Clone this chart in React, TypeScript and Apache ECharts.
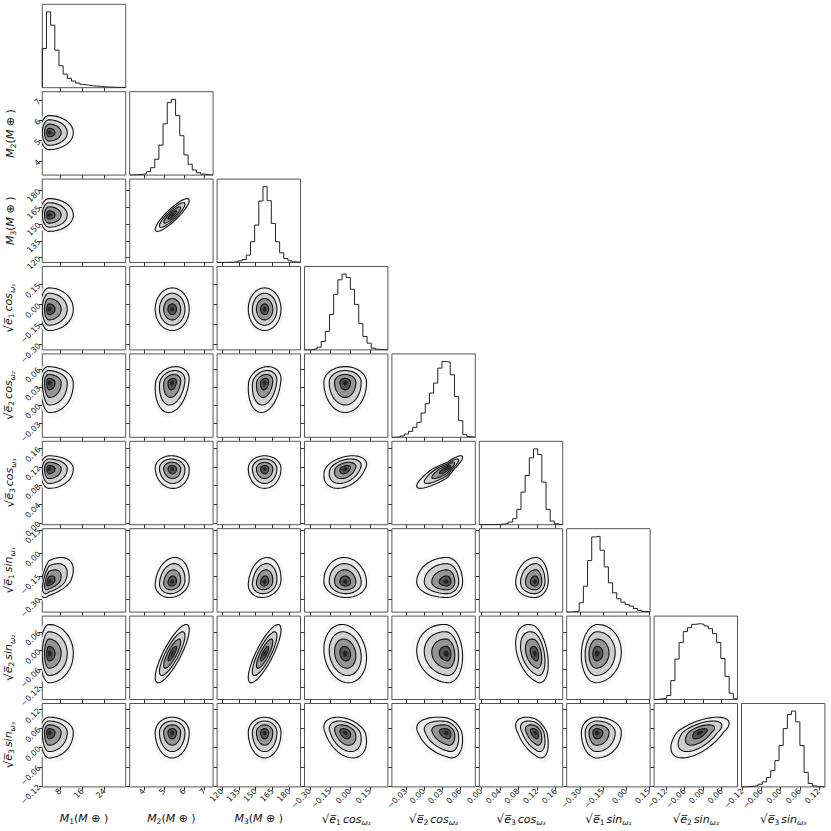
import React, { useEffect, useRef } from 'react';
import * as echarts from 'echarts';

// ---------- data ----------
// axis ranges of each parameter (same for x and y use)
const paramRanges: [number, number][] = [
  [1.5, 31.6],      // M1
  [3.3, 7.42],      // M2
  [115.6, 190],     // M3
  [-0.34, 0.285],   // sqrt(e1) cos w1
  [-0.053, 0.085],  // sqrt(e2) cos w2
  [-0.004, 0.175],  // sqrt(e3) cos w3
  [-0.385, 0.157],  // sqrt(e1) sin w1
  [-0.158, 0.111],  // sqrt(e2) sin w2
  [-0.123, 0.139],  // sqrt(e3) sin w3
];

const tickM1 = [8, 16, 24];
const tickM2 = [4, 5, 6, 7];
const tickM3 = [120, 135, 150, 165, 180];
const tickE1c = [-0.3, -0.15, 0, 0.15];
const tickE2c = [-0.03, 0, 0.03, 0.06];
const tickE3c = [0, 0.04, 0.08, 0.12, 0.16];
const tickE1s = [-0.3, -0.15, 0, 0.15];
const tickE2s = [-0.12, -0.06, 0, 0.06];
const tickE3s = [-0.12, -0.06, 0, 0.06, 0.12];
const tickDecimals = [0, 0, 0, 2, 2, 2, 2, 2, 2];

// 20-bin marginal histograms (relative counts)
const histM1 = [118, 228, 188, 113, 66, 41, 28, 20, 14, 10, 8, 6, 5, 4, 3, 2, 2, 1, 1, 0.5];
const histM2 = [0.5, 1, 2, 4, 10, 22, 47, 89, 152, 215, 225, 177, 117, 60, 32, 15, 7, 3, 1, 0.5];
const histM3 = [0, 0.3, 0.6, 1, 2, 5, 9, 22, 62, 112, 184, 227, 185, 117, 62, 29, 12, 5, 2, 1];
const histE1c = [0, 1, 3, 8, 25, 55, 105, 165, 208, 225, 215, 180, 135, 78, 40, 20, 5, 2, 0.5, 0];
const histE2c = [0, 1, 4, 10, 18, 30, 45, 73, 101, 133, 163, 208, 228, 226, 188, 123, 50, 8, 2, 0];
const histE3c = [0, 0, 0.3, 0.5, 1, 2, 4, 8, 18, 46, 98, 148, 201, 228, 211, 128, 46, 11, 3, 0.5];
const histE1s = [0, 1, 3, 28, 78, 155, 226, 228, 186, 136, 88, 58, 40, 30, 23, 18, 11, 5, 2, 0.5];
const histE2s = [0.5, 2, 4, 12, 57, 122, 172, 205, 217, 227, 229, 227, 222, 214, 199, 172, 124, 70, 19, 2];
const histE3s = [0, 1, 2, 4, 8, 15, 28, 48, 78, 123, 173, 215, 225, 193, 123, 43, 10, 3, 0.5, 0];

// centre and (lower / upper) spread of each parameter, for the 2-D contours
const centers = [3.9, 5.4, 158, -0.035, 0.038, 0.116, -0.19, -0.01, 0.048];
const spreadLo = [1.6, 0.42, 7.3, 0.08, 0.025, 0.021, 0.05, 0.047, 0.04];
const spreadHi = [4.4, 0.42, 7.3, 0.08, 0.013, 0.014, 0.08, 0.047, 0.024];

// correlation of each pair [row, col, rho]
const correlations: [number, number, number][] = [
  [1, 0, 0.0],
  [2, 0, 0.0], [2, 1, 0.88],
  [3, 0, 0.0], [3, 1, 0.0], [3, 2, 0.0],
  [4, 0, -0.05], [4, 1, 0.2], [4, 2, 0.2], [4, 3, 0.0],
  [5, 0, 0.0], [5, 1, -0.05], [5, 2, 0.0], [5, 3, 0.35], [5, 4, 0.88],
  [6, 0, 0.5], [6, 1, 0.15], [6, 2, 0.15], [6, 3, -0.05], [6, 4, 0.0], [6, 5, 0.05],
  [7, 0, 0.0], [7, 1, 0.82], [7, 2, 0.82], [7, 3, -0.15], [7, 4, -0.1], [7, 5, -0.35], [7, 6, 0.05],
  [8, 0, 0.0], [8, 1, 0.0], [8, 2, 0.0], [8, 3, -0.35], [8, 4, -0.3], [8, 5, -0.45], [8, 6, 0.0], [8, 7, 0.6],
];

const contourLevels = [2.0, 1.5, 1.0, 0.5];

const OL = '\u0305';
const SUB = ['\u2080', '\u2081', '\u2082', '\u2083'];
const sqrtLabel = (k: number, trig: string) =>
  `{r|\u221A}{m|e${OL}}{s|${k}}{t|${trig}}{u|\u03C9${SUB[k]}}`;
const massLabel = (k: number) => `{m|M}{s|${k}}{p|(}{m|M }{p|\u2295 )}`;
const paramLabels = [
  massLabel(1),
  massLabel(2),
  massLabel(3),
  sqrtLabel(1, 'cos'),
  sqrtLabel(2, 'cos'),
  sqrtLabel(3, 'cos'),
  sqrtLabel(1, 'sin'),
  sqrtLabel(2, 'sin'),
  sqrtLabel(3, 'sin'),
];

const ticks = [tickM1, tickM2, tickM3, tickE1c, tickE2c, tickE3c, tickE1s, tickE2s, tickE3s];
const hists = [histM1, histM2, histM3, histE1c, histE2c, histE3c, histE1s, histE2s, histE3s];

// ---------- layout ----------
const N = 9;
const CELL = 83.4;
const STEP = 87.4;
const LEFT0 = 42.3;
const TOP0 = 4.3;

const fmt = (d: number) => (v: number) => {
  const a = Math.abs(v) < 1e-9 ? 0 : v;
  const s = Math.abs(a).toFixed(d);
  return a < 0 ? '\u2212' + s : s;
};

const FF = 'DejaVu Sans';
const nameStyle = {
  fontFamily: FF,
  fontSize: 11,
  color: '#111',
  rich: {
    m: { fontFamily: FF, fontSize: 11, fontStyle: 'italic', color: '#111' },
    p: { fontFamily: FF, fontSize: 11, color: '#111' },
    r: { fontFamily: FF, fontSize: 12, color: '#111' },
    t: { fontFamily: FF, fontSize: 11, fontStyle: 'italic', color: '#111', padding: [0, 0, 0, 2] },
    s: { fontFamily: FF, fontSize: 7.5, color: '#111', padding: [6, 0, 0, 0] },
    u: { fontFamily: FF, fontSize: 7.5, fontStyle: 'italic', color: '#111', padding: [7, 0, 0, 0] },
  },
};

function rhoOf(r: number, c: number) {
  const f = correlations.find((p) => p[0] === r && p[1] === c);
  return f ? f[2] : 0;
}

function buildOption() {
  const grids: any[] = [];
  const xAxes: any[] = [];
  const yAxes: any[] = [];
  const series: any[] = [];
  let k = 0;
  for (let r = 0; r < N; r++) {
    for (let c = 0; c <= r; c++) {
      grids.push({
        left: LEFT0 + STEP * c,
        top: TOP0 + STEP * r,
        width: CELL,
        height: CELL,
        show: true,
        borderColor: '#555',
        borderWidth: 1,
        backgroundColor: 'transparent',
        containLabel: false,
        outerBoundsMode: 'none',
      });
      const [xmin, xmax] = paramRanges[c];
      xAxes.push({
        gridIndex: k,
        type: 'value',
        position: 'bottom',
        min: xmin,
        max: xmax,
        splitLine: { show: false },
        axisLine: { show: false, onZero: false },
        axisTick: { show: true, length: 3.5, customValues: ticks[c], lineStyle: { color: '#333', width: 1 } },
        axisLabel: {
          show: r === N - 1,
          customValues: ticks[c],
          rotate: 45,
          fontSize: 8,
          margin: 3,
          color: '#222',
          fontFamily: FF,
          formatter: fmt(tickDecimals[c]),
        },
        name: r === N - 1 ? paramLabels[c] : '',
        nameLocation: 'middle',
        nameGap: 25,
        nameTextStyle: nameStyle,
      });
      if (r === c) {
        const h = hists[c];
        const maxH = Math.max(...h);
        yAxes.push({
          gridIndex: k,
          type: 'value',
          min: 0,
          max: maxH * 1.1,
          show: false,
          axisLine: { onZero: false },
          splitLine: { show: false },
        });
        const w = (xmax - xmin) / h.length;
        const pts: number[][] = [[xmin, 0]];
        h.forEach((v, i) => {
          pts.push([xmin + i * w, v]);
          pts.push([xmin + (i + 1) * w, v]);
        });
        pts.push([xmax, 0]);
        series.push({
          type: 'line',
          xAxisIndex: k,
          yAxisIndex: k,
          data: pts,
          symbol: 'none',
          silent: true,
          lineStyle: { color: '#222', width: 1 },
        });
      } else {
        const [ymin, ymax] = paramRanges[r];
        yAxes.push({
          gridIndex: k,
          type: 'value',
          position: 'left',
          min: ymin,
          max: ymax,
          splitLine: { show: false },
          axisLine: { show: false, onZero: false },
          axisTick: { show: true, length: 3.5, customValues: ticks[r], lineStyle: { color: '#333', width: 1 } },
          axisLabel: {
            show: c === 0,
            customValues: ticks[r],
            rotate: 45,
            fontSize: 8,
            margin: 3,
            color: '#222',
            fontFamily: FF,
            formatter: fmt(tickDecimals[r]),
          },
          name: c === 0 ? paramLabels[r] : '',
          nameLocation: 'middle',
          nameGap: 25,
          nameRotate: 90,
          nameTextStyle: nameStyle,
        });
        const rho = rhoOf(r, c);
        const cx = c, cy = r;
        series.push({
          type: 'custom',
          coordinateSystem: 'cartesian2d',
          xAxisIndex: k,
          yAxisIndex: k,
          clip: true,
          silent: true,
          data: [[centers[cx], centers[cy]]],
          renderItem: (_p: any, api: any) => {
            const ring = (s: number) => {
              const pts: number[][] = [];
              const n = 72;
              const q = Math.sqrt(1 - rho * rho);
              for (let i = 0; i < n; i++) {
                const t = (i / n) * Math.PI * 2;
                const a = s * Math.cos(t);
                const b = s * Math.sin(t);
                const u = a;
                const v = rho * a + q * b;
                const x = centers[cx] + u * (u > 0 ? spreadHi[cx] : spreadLo[cx]);
                const y = centers[cy] + v * (v > 0 ? spreadHi[cy] : spreadLo[cy]);
                pts.push(api.coord([x, y]));
              }
              return pts;
            };
            const fills: [number, string][] = [
              [2.4, '#f9f9f9'],
              [2.0, '#efefef'],
              [1.5, '#cfcfcf'],
              [1.0, '#959595'],
              [0.5, '#555555'],
              [0.22, '#222222'],
            ];
            const children: any[] = fills.map(([s, col]) => ({
              type: 'polygon',
              shape: { points: ring(s) },
              style: { fill: col, stroke: 'none' },
            }));
            contourLevels.forEach((s) => {
              children.push({
                type: 'polygon',
                shape: { points: ring(s) },
                style: { fill: 'none', stroke: '#111', lineWidth: 1.1 },
              });
            });
            return { type: 'group', children };
          },
        });
      }
      k++;
    }
  }
  return {
    animation: false,
    backgroundColor: '#ffffff',
    grid: grids,
    xAxis: xAxes,
    yAxis: yAxes,
    series,
  };
}

export default function App() {
  const ref = useRef<HTMLDivElement>(null);
  useEffect(() => {
    const chart = echarts.init(ref.current!, null, { renderer: 'svg' });
    chart.setOption(buildOption() as any);
    return () => chart.dispose();
  }, []);
  return (
    <div
      ref={ref}
      style={{ position: 'absolute', left: 0, top: 0, width: 831, height: 831, background: '#fff' }}
    />
  );
}
